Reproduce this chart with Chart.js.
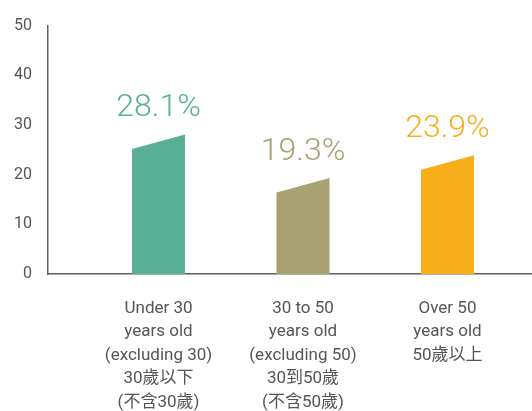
<!DOCTYPE html>
<html>
<head>
<meta charset="utf-8">
<script src="https://cdn.jsdelivr.net/npm/chart.js@4"></script>
<style>
  html, body { margin: 0; padding: 0; background: #fff; }
  #wrap { width: 532px; height: 411px; position: relative; }
</style>
</head>
<body>
<div id="wrap"><canvas id="ageChart"></canvas></div>
<script>
// age groups (multi-line labels) and their share in %
const categories = [
  ['Under 30', 'years old', '(excluding 30)', '30歲以下', '(不含30歲)'],
  ['30 to 50', 'years old', '(excluding 50)', '30到50歲', '(不含50歲)'],
  ['Over 50', 'years old', '50歲以上']
];
const shares = [28.1, 19.3, 23.9];
const yTicks = [0, 10, 20, 30, 40, 50];
const barColors = ['#57b095', '#a8a272', '#f8ae1a'];

const SLANT = 14.5;   // px drop of the bar top on its left side
const AXIS_COLOR = '#5f5f5f';
const FONT = "Roboto, 'Noto Sans CJK TC', sans-serif";

// bars with a slanted top + big value labels
const slantedBars = {
  id: 'slantedBars',
  beforeDatasetDraw(chart, args) {
    const ctx = chart.ctx;
    args.meta.data.forEach((bar, i) => {
      const half = bar.width / 2;
      ctx.save();
      ctx.fillStyle = barColors[i];
      ctx.beginPath();
      ctx.moveTo(bar.x - half, bar.base);
      ctx.lineTo(bar.x - half, bar.y + SLANT);
      ctx.lineTo(bar.x + half, bar.y);
      ctx.lineTo(bar.x + half, bar.base);
      ctx.closePath();
      ctx.fill();
      ctx.restore();
    });
    return false;
  },
  afterDatasetsDraw(chart) {
    const ctx = chart.ctx;
    chart.getDatasetMeta(0).data.forEach((bar, i) => {
      ctx.save();
      ctx.font = "300 32px " + FONT;
      ctx.fillStyle = barColors[i];
      ctx.textAlign = 'center';
      ctx.textBaseline = 'alphabetic';
      ctx.fillText(shares[i].toFixed(1) + '%', bar.x, bar.y - 18);
      ctx.restore();
    });
  }
};

new Chart(document.getElementById('ageChart'), {
  type: 'bar',
  data: {
    datasets: [{
      data: shares.map((v, i) => ({ x: i + 1, y: v })),
      backgroundColor: barColors,
      barThickness: 53
    }]
  },
  options: {
    responsive: true,
    maintainAspectRatio: false,
    animation: false,
    layout: { padding: { top: 21, right: 0, left: 0, bottom: 0 } },
    plugins: { legend: { display: false }, tooltip: { enabled: false } },
    scales: {
      x: {
        type: 'linear',
        offset: false,
        min: 0.235,
        max: 3.585,
        grid: { display: false, drawTicks: false },
        border: { display: true, color: AXIS_COLOR, width: 1.5 },
        afterBuildTicks: (scale) => {
          scale.ticks = categories.map((_, i) => ({ value: i + 1 }));
        },
        afterFit: (scale) => { scale.height = 137; },
        ticks: {
          autoSkip: false,
          maxRotation: 0,
          padding: 23,
          color: '#555',
          font: { family: FONT, size: 17, lineHeight: 1.38 },
          callback: (v) => categories[v - 1]
        }
      },
      y: {
        min: 0,
        max: 50,
        grid: { display: false, drawTicks: false },
        border: { display: true, color: AXIS_COLOR, width: 1.5 },
        afterBuildTicks: (scale) => {
          scale.ticks = yTicks.map(v => ({ value: v }));
        },
        afterFit: (scale) => { scale.width = 48; },
        ticks: {
          padding: 16,
          color: '#555',
          font: { family: FONT, size: 16 }
        }
      }
    }
  },
  plugins: [slantedBars]
});
</script>
</body>
</html>
